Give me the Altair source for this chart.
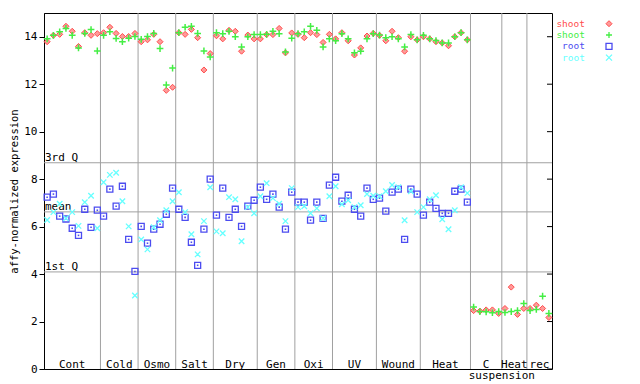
import altair as alt
import pandas as pd

FONT = "DejaVu Sans Mono"

groups = ["Cont", "Cold", "Osmo", "Salt", "Dry", "Gen", "Oxi", "UV", "Wound", "Heat", "C", "Heat", "rec"]
group_sizes = [9, 6, 6, 6, 7, 6, 6, 7, 7, 8, 5, 4, 4]

shoot_red = [
    13.79, 14.06, 14.10, 14.44, 14.23, 13.59, 14.17, 14.06, 14.13,
    14.17, 14.40, 14.14, 14.01, 14.01, 14.14,
    13.79, 13.87, 14.10, 13.79, 11.74, 11.87,
    14.17, 14.10, 14.31, 13.96, 12.60, 13.29,
    14.04, 13.91, 14.27, 14.23, 13.39, 14.07, 13.91,
    13.91, 14.09, 14.09, 14.35, 13.32, 14.16,
    14.10, 13.96, 14.17, 14.09, 13.76, 14.10,
    13.91, 14.17, 13.83, 13.23, 13.53, 14.03, 14.14,
    14.06, 13.83, 14.23, 13.96, 13.39, 14.00, 13.87,
    14.00, 13.91, 13.79, 13.74, 13.62, 14.00, 14.17, 13.87,
    2.46, 2.44, 2.49, 2.49, 2.34,
    2.55, 3.45, 2.30, 2.55,
    2.55, 2.69, 2.55, 2.17,
]
shoot_green = [
    13.91, 14.06, 14.21, 14.35, 14.06, 13.53, 14.14, 14.30, 13.40,
    14.06, 14.21, 13.93, 13.79, 13.94, 14.01,
    13.89, 14.01, 14.14, 13.50, 11.97, 12.68,
    14.17, 14.40, 14.44, 14.14, 13.40, 13.15,
    14.17, 14.13, 14.23, 14.00, 13.57, 14.00, 14.09,
    14.09, 14.10, 14.23, 14.13, 13.36, 13.94,
    14.13, 14.21, 14.44, 14.27, 13.57, 13.91,
    13.83, 14.13, 13.91, 13.32, 13.39, 13.91, 14.13,
    14.07, 13.96, 14.00, 13.91, 13.57, 14.09, 13.87,
    14.06, 13.91, 13.84, 13.74, 13.74, 14.00, 14.17, 13.87,
    2.61, 2.42, 2.41, 2.37, 2.42,
    2.38, 2.42, 2.46, 2.76,
    2.46, 2.51, 3.07, 2.34,
]
root_blue = [
    7.24, 7.37, 6.44, 6.32, 5.93, 5.63, 6.73, 5.97, 6.69,
    6.44, 7.58, 6.86, 7.70, 5.46, 4.11,
    6.01, 5.30, 5.89, 6.10, 6.52, 7.62,
    6.73, 6.39, 5.34, 4.37, 5.89, 8.00,
    6.48, 7.62, 6.39, 6.73, 6.01, 6.86, 7.11,
    7.66, 7.15, 7.37, 6.82, 5.89, 7.45,
    7.03, 7.03, 6.27, 7.03, 6.35, 7.75,
    8.08, 7.07, 7.32, 6.73, 6.44, 7.62, 7.15,
    7.20, 6.65, 7.45, 7.58, 5.46, 7.58, 7.37,
    6.48, 7.03, 6.77, 6.56, 6.56, 7.49, 7.58, 7.03,
]
root_cyan = [
    6.28, 6.61, 6.96, 6.35, 6.61, 6.03, 7.03, 7.30, 5.93,
    7.87, 8.18, 8.27, 7.07, 6.01, 3.10,
    5.46, 5.04, 5.97, 6.27, 6.69, 7.07,
    7.45, 6.61, 5.68, 4.83, 6.23, 7.66,
    5.80, 5.72, 7.24, 7.15, 5.38, 6.82, 6.56,
    7.28, 7.83, 7.20, 6.96, 6.23, 7.62,
    6.82, 6.86, 6.56, 6.77, 6.35, 7.28,
    7.70, 6.94, 7.11, 6.82, 6.90, 7.37, 7.30,
    7.28, 7.49, 7.75, 7.66, 6.27, 7.49, 6.61,
    6.82, 7.15, 7.32, 6.31, 5.89, 6.69, 7.66, 7.41,
]

q_labels = ["3rd Q", "mean", "1st Q"]
q_values = [8.69, 6.62, 4.09]
y_ticks = [0, 2, 4, 6, 8, 10, 12, 14]
legend_labels = ["shoot", "shoot", "root", "root"]
colors = ["#ff4c4c", "#44ee44", "#4c4cf0", "#66ffff"]

n_slots = sum(group_sizes)
bounds = []
acc = 0
for s in group_sizes:
    acc += s
    bounds.append(acc)
starts = [b - s for b, s in zip(bounds, group_sizes)]


def series_df(vals):
    return pd.DataFrame({"pos": [i + 0.5 for i in range(len(vals))], "value": vals})


xs = alt.Scale(domain=[0, n_slots], nice=False, zero=False)
ys = alt.Scale(domain=[0, 15], nice=False, zero=True)
yaxis = alt.Axis(
    values=y_ticks, title="affy-normalized expression", grid=False,
    domainColor="black", tickColor="black", labelColor="black", titleColor="black",
    labelFont=FONT, labelFontSize=11, titleFont=FONT, titleFontSize=10.5,
    titleFontWeight="normal", tickSize=5, labelPadding=2, titlePadding=4,
)
X = alt.X("pos:Q", scale=xs, axis=None)
Y = alt.Y("value:Q", scale=ys, axis=yaxis)

layers = []

# vertical group separators
sep_df = pd.DataFrame({"pos": bounds[:-1]})
layers.append(alt.Chart(sep_df).mark_rule(color="#a0a0a0", strokeWidth=1).encode(x=X))

# quartile / mean lines
q_df = pd.DataFrame({"value": q_values, "label": q_labels})
layers.append(alt.Chart(q_df).mark_rule(color="#a0a0a0", strokeWidth=1).encode(y=Y))
layers.append(
    alt.Chart(q_df).mark_text(align="left", baseline="alphabetic", dx=1, dy=-1.5,
                              font=FONT, fontSize=11, color="black")
    .encode(x=alt.value(0), y=Y, text="label:N")
)

# right side inner ticks
rt_df = pd.DataFrame({"value": y_ticks})
layers.append(
    alt.Chart(rt_df).mark_rule(color="black", strokeWidth=1)
    .encode(y=Y, x=alt.value(503), x2=alt.value(508))
)

# group labels
g_df = pd.DataFrame({"pos": [st + s / 2 for st, s in zip(starts, group_sizes)], "label": groups})
layers.append(
    alt.Chart(g_df).mark_text(align="center", baseline="alphabetic", font=FONT, fontSize=11, color="black")
    .encode(x=X, y=alt.value(354.5), text="label:N")
)
sub_df = pd.DataFrame({"pos": [bounds[10]], "label": ["suspension"]})
layers.append(
    alt.Chart(sub_df).mark_text(align="center", baseline="alphabetic", font=FONT, fontSize=11, color="black")
    .encode(x=X, y=alt.value(366), text="label:N")
)

# data points
plus_path = "M-1,0L1,0M0,-1L0,1"
x_path = "M-1,-1L1,1M-1,1L1,-1"
layers.append(
    alt.Chart(series_df(shoot_red)).mark_point(shape="diamond", filled=True, size=36, fill="#ff9a9a",
                                                stroke=colors[0], strokeWidth=1, opacity=1)
    .encode(x=X, y=Y)
)
layers.append(
    alt.Chart(series_df(shoot_green)).mark_point(shape=plus_path, size=45, filled=False,
                                                  stroke=colors[1], strokeWidth=1.5, opacity=1)
    .encode(x=X, y=Y)
)
layers.append(
    alt.Chart(series_df(root_blue)).mark_point(shape="square", size=36, filled=False,
                                                stroke=colors[2], strokeWidth=1.3, opacity=1)
    .encode(x=X, y=Y)
)
layers.append(
    alt.Chart(series_df(root_blue)).mark_square(size=2.5, color=colors[2], opacity=1)
    .encode(x=X, y=Y)
)
layers.append(
    alt.Chart(series_df(root_cyan)).mark_point(shape=x_path, size=30, filled=False,
                                                stroke=colors[3], strokeWidth=1.3, opacity=1)
    .encode(x=X, y=Y)
)

# legend
shapes = [("diamond", True), (plus_path, False), ("square", False), (x_path, False)]
for k in range(4):
    ly = 10.7 + 11.3 * k
    layers.append(
        alt.Chart(pd.DataFrame({"label": [legend_labels[k]]}))
        .mark_text(align="right", baseline="middle", font=FONT, fontSize=9.5, color=colors[k])
        .encode(x=alt.value(541), y=alt.value(ly), text="label:N")
    )
    shp, filled = shapes[k]
    if filled:
        mk = alt.Chart(pd.DataFrame({"label": [legend_labels[k]]})).mark_point(
            shape=shp, filled=True, size=36, fill="#ff9a9a", stroke=colors[k], strokeWidth=1, opacity=1)
    else:
        mk = alt.Chart(pd.DataFrame({"label": [legend_labels[k]]})).mark_point(
            shape=shp, filled=False, size=36, stroke=colors[k], strokeWidth=1.3, opacity=1)
    layers.append(mk.encode(x=alt.value(565), y=alt.value(ly)))

chart = (
    alt.layer(*layers)
    .properties(
        width=508, height=356,
        padding={"left": 36, "top": 5, "right": 80, "bottom": 13},
        autosize=alt.AutoSizeParams(type="none"),
        background="white",
    )
    .configure_view(stroke="black", strokeWidth=1)
)

chart.save("out.html", embed_options={"renderer": "svg", "actions": False})
